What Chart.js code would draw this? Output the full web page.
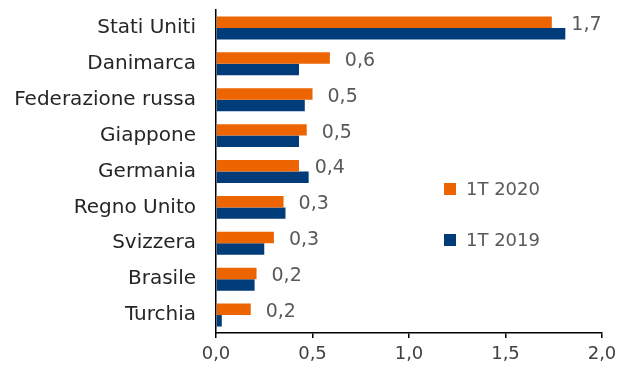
<!DOCTYPE html>
<html lang="it">
<head>
  <meta charset="UTF-8" />
  <title>Paesi – 1T 2020 vs 1T 2019</title>
  <script src="https://cdn.jsdelivr.net/npm/chart.js"></script>
  <style>
    html, body { margin: 0; padding: 0; background: #fff; }
    #grafico { display: block; }
  </style>
</head>
<body>
  <canvas id="grafico" width="619" height="369"></canvas>

  <script>
    // Dati
    const paesi = [
      "Stati Uniti", "Danimarca", "Federazione russa", "Giappone", "Germania",
      "Regno Unito", "Svizzera", "Brasile", "Turchia"
    ];
    const valori2020 = [1.74, 0.59, 0.50, 0.47, 0.43, 0.35, 0.30, 0.21, 0.18];
    const valori2019 = [1.81, 0.43, 0.46, 0.43, 0.48, 0.36, 0.25, 0.20, 0.03];
    const serie = ["1T 2020", "1T 2019"];
    const coloriSerie = ["#EC6500", "#003B7A"];
    const tickX = [0, 0.5, 1, 1.5, 2];

    const FONT = "'DejaVu Sans', sans-serif";
    const virgola = v => v.toFixed(1).replace(".", ",");

    // etichette con il valore 2020 a destra delle barre
    const etichetteValori = {
      id: "etichetteValori",
      afterDatasetsDraw(chart) {
        const ctx = chart.ctx;
        const m20 = chart.getDatasetMeta(0);
        const m19 = chart.getDatasetMeta(1);
        ctx.save();
        ctx.font = "19px " + FONT;
        ctx.fillStyle = "#595959";
        ctx.textAlign = "left";
        ctx.textBaseline = "middle";
        m20.data.forEach((bar, i) => {
          const altra = m19.data[i];
          const x = Math.max(bar.x + 15, altra.x + 6);
          const y = (bar.y + altra.y) / 2 - 3;
          ctx.fillText(virgola(valori2020[i]), x, y);
        });
        ctx.restore();
      }
    };

    // legenda dentro l'area del grafico
    const legendaInterna = {
      id: "legendaInterna",
      afterDraw(chart) {
        const ctx = chart.ctx;
        const a = chart.chartArea;
        ctx.save();
        ctx.font = "18px " + FONT;
        ctx.textBaseline = "middle";
        ctx.textAlign = "left";
        chart.data.datasets.forEach((ds, i) => {
          const x = a.left + 228;
          const y = a.top + 173 + i * 51;
          ctx.fillStyle = ds.backgroundColor;
          ctx.fillRect(x, y, 12, 12);
          ctx.fillStyle = "#595959";
          ctx.fillText(ds.label, x + 22, y + 7);
        });
        ctx.restore();
      }
    };

    new Chart(document.getElementById("grafico"), {
      type: "bar",
      data: {
        labels: paesi,
        datasets: [
          { label: serie[0], data: valori2020, backgroundColor: coloriSerie[0] },
          { label: serie[1], data: valori2019, backgroundColor: coloriSerie[1] }
        ]
      },
      options: {
        indexAxis: "y",
        responsive: false,
        animation: false,
        layout: { padding: { top: 10, right: 17, left: 0, bottom: 0 } },
        datasets: { bar: { categoryPercentage: 0.64, barPercentage: 1.0 } },
        plugins: {
          legend: { display: false },
          tooltip: { enabled: false }
        },
        scales: {
          x: {
            min: 0,
            max: 2,
            afterBuildTicks: s => { s.ticks = tickX.map(v => ({ value: v })); },
            afterFit: s => {
              s.height = 36;
              s.paddingLeft = 0;
              s.paddingRight = 0;
            },
            ticks: {
              callback: v => virgola(v),
              font: { family: FONT, size: 18 },
              color: "#404040",
              padding: 6
            },
            grid: {
              drawOnChartArea: false,
              drawTicks: true,
              tickLength: 5,
              color: "#000",
              lineWidth: 1.5
            },
            border: { display: true, color: "#000", width: 1.5 }
          },
          y: {
            afterFit: s => {
              s.width = 216;
              s.paddingTop = 0;
              s.paddingBottom = 0;
            },
            ticks: {
              font: { family: FONT, size: 20 },
              color: "#262626",
              padding: 12
            },
            grid: { display: false },
            border: { display: true, color: "#000", width: 1.5 }
          }
        }
      },
      plugins: [etichetteValori, legendaInterna]
    });
  </script>
</body>
</html>
